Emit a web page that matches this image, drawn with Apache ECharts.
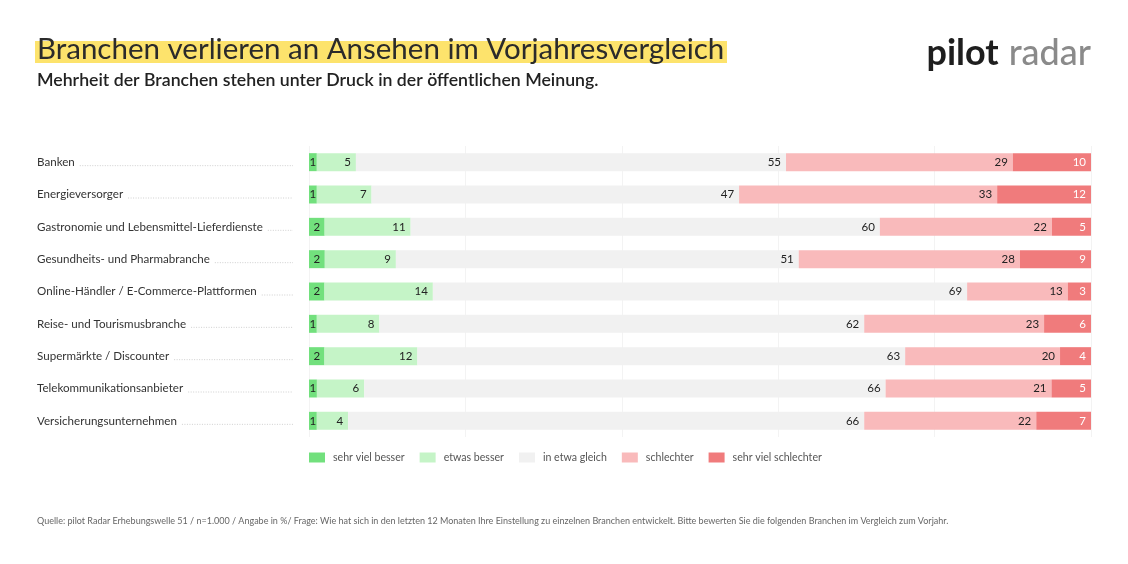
<!DOCTYPE html>
<html><head><meta charset="utf-8">
<script src="https://cdn.jsdelivr.net/npm/echarts@6/dist/echarts.min.js"></script>
<style>html,body{margin:0;padding:0;background:#fff}#c{width:1128px;height:564px}</style>
</head><body><div id="c"></div>
<script>
const categories = [
  'Banken',
  'Energieversorger',
  'Gastronomie und Lebensmittel-Lieferdienste',
  'Gesundheits- und Pharmabranche',
  'Online-Händler / E-Commerce-Plattformen',
  'Reise- und Tourismusbranche',
  'Supermärkte / Discounter',
  'Telekommunikationsanbieter',
  'Versicherungsunternehmen'
];
const seriesNames = ['sehr viel besser', 'etwas besser', 'in etwa gleich', 'schlechter', 'sehr viel schlechter'];
const sehrVielBesser     = [1, 1, 2, 2, 2, 1, 2, 1, 1];
const etwasBesser        = [5, 7, 11, 9, 14, 8, 12, 6, 4];
const inEtwaGleich       = [55, 47, 60, 51, 69, 62, 63, 66, 66];
const schlechter         = [29, 33, 22, 28, 13, 23, 20, 21, 22];
const sehrVielSchlechter = [10, 12, 5, 9, 3, 6, 4, 5, 7];
const xTicks = [0, 20, 40, 60, 80, 100];

const colors = ['#72e07d', '#c5f4c7', '#f1f1f1', '#f9babb', '#f07b7c'];
const labelColors = ['#222', '#222', '#222', '#222', '#ffffff'];
const FONT = 'Lato';
const CAT_FONT_SIZE = 11.6;

const allSeries = [sehrVielBesser, etwasBesser, inEtwaGleich, schlechter, sehrVielSchlechter];
const totals = categories.map((_, i) => allSeries.reduce((s, arr) => s + arr[i], 0));

const ctx = document.createElement('canvas').getContext('2d');
ctx.font = CAT_FONT_SIZE + 'px ' + FONT;
const textW = categories.map(c => ctx.measureText(c).width);

const chart = echarts.init(document.getElementById('c'), null, {renderer: 'canvas'});

const barSeries = allSeries.map((arr, si) => ({
  name: seriesNames[si],
  type: 'bar',
  stack: 'total',
  barWidth: 18,
  itemStyle: {color: colors[si]},
  emphasis: {disabled: true},
  label: {
    show: true,
    position: si === 0 ? 'inside' : 'insideRight',
    distance: 5,
    color: labelColors[si],
    fontFamily: FONT,
    fontSize: 11.5,
    formatter: p => p.data.raw
  },
  data: arr.map((v, i) => ({value: v / totals[i] * 100, raw: v}))
}));

const leaderSeries = {
  type: 'custom',
  silent: true,
  clip: false,
  z: 1,
  data: categories.map((c, i) => [0, i]),
  encode: {x: 0, y: 1},
  renderItem: (params, api) => {
    const idx = api.value(1);
    const y = api.coord([0, idx])[1] + 3.5;
    const x1 = 37 + textW[idx] + 5;
    return {
      type: 'line',
      shape: {x1: x1, y1: y, x2: 293, y2: y},
      style: {stroke: '#cfcfcf', lineWidth: 1, lineDash: [1, 1.5]}
    };
  }
};

chart.setOption({
  animation: false,
  textStyle: {fontFamily: FONT},
  grid: {left: 309, right: 37, top: 146, height: 291, containLabel: false},
  xAxis: {
    type: 'value', min: xTicks[0], max: xTicks[xTicks.length - 1], interval: 20,
    axisLabel: {show: false}, axisLine: {show: false}, axisTick: {show: false},
    splitLine: {show: true, lineStyle: {color: '#f3f3f3', width: 1}}
  },
  yAxis: {
    type: 'category', data: categories, inverse: true,
    axisLine: {show: false}, axisTick: {show: false},
    axisLabel: {
      margin: 272, align: 'left', color: '#333', fontSize: CAT_FONT_SIZE, fontFamily: FONT
    }
  },
  legend: {
    data: seriesNames,
    left: 304, top: 447,
    itemWidth: 16, itemHeight: 10, itemGap: 15,
    icon: 'rect',
    selectedMode: false,
    textStyle: {color: '#555', fontSize: 10.6, fontFamily: FONT, padding: [0, 0, 0, 3]}
  },
  graphic: [
    {type: 'rect', shape: {x: 35, y: 41, width: 692, height: 22}, style: {fill: '#fde36c'}, z: 0},
    {type: 'text', left: 37, top: 34, z: 5,
      style: {text: 'Branchen verlieren an Ansehen im Vorjahresvergleich', font: '400 29.5px ' + FONT, fill: '#2b2b2b'}},
    {type: 'text', left: 37, top: 71, z: 5,
      style: {text: 'Mehrheit der Branchen stehen unter Druck in der öffentlichen Meinung.', font: '600 17.7px ' + FONT, fill: '#222'}},
    {type: 'text', right: 37, top: 35, z: 5,
      style: {
        text: '{a|pilot}{b|radar}',
        rich: {
          a: {font: '700 36px ' + FONT, fill: '#1e1e1e', padding: [0, 10, 0, 0]},
          b: {font: '500 36px ' + FONT, fill: '#8a8a8a'}
        }
      }},
    {type: 'text', left: 37, top: 517, z: 5,
      style: {text: 'Quelle: pilot Radar Erhebungswelle 51 / n=1.000 / Angabe in %/ Frage: Wie hat sich in den letzten 12 Monaten Ihre Einstellung zu einzelnen Branchen entwickelt. Bitte bewerten Sie die folgenden Branchen im Vergleich zum Vorjahr.',
        font: '400 9px ' + FONT, fill: '#666'}}
  ],
  series: [...barSeries, leaderSeries]
});
</script>
</body></html>
